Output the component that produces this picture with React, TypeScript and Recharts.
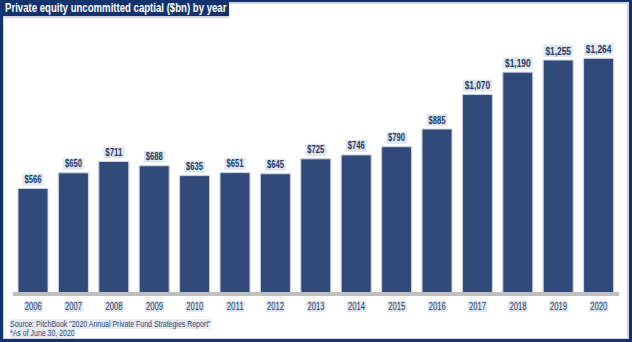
import React from 'react';
import { BarChart, Bar, XAxis, YAxis, LabelList } from 'recharts';

const years = ['2006', '2007', '2008', '2009', '2010', '2011', '2012', '2013', '2014', '2015', '2016', '2017', '2018', '2019', '2020'];
const capital = [566, 650, 711, 688, 635, 651, 645, 725, 746, 790, 885, 1070, 1190, 1255, 1264];
const titleText = 'Private equity uncommitted captial ($bn) by year';
const sourceLines = ['Source: PitchBook "2020 Annual Private Fund Strategies Report"', '*As of June 30, 2020'];

const data = years.map((y, i) => ({ year: y, value: capital[i] }));

const FONT = '"Liberation Sans", Arial, sans-serif';
const NAVY = '#12336b';
const BAR = '#324a7b';
const TEXT = '#1f3864';
const HILITE = '#e1e6ee';

const Tick = (props: any) => {
  const { x, y, payload } = props;
  const w = 19;
  return (
    <g>
      <rect x={x - w / 2} y={y - 1} width={w} height={11} fill={HILITE} />
      <text x={x} y={y + 8} textAnchor="middle" fontSize={10} fill={TEXT} fontFamily={FONT}
        textLength={17} lengthAdjust="spacingAndGlyphs">
        {payload.value}
      </text>
    </g>
  );
};

const ValueLabel = (props: any) => {
  const { x, y, width, value } = props;
  const cx = x + width / 2;
  const t = '$' + Number(value).toLocaleString('en-US');
  const tl = t.length * 4.25;
  const w = tl + 4;
  return (
    <g>
      <rect x={cx - w / 2} y={y - 15} width={w} height={12} fill={HILITE} />
      <text x={cx} y={y - 5.5} textAnchor="middle" fontSize={10} fontWeight="bold" fill={TEXT} fontFamily={FONT}
        textLength={tl} lengthAdjust="spacingAndGlyphs">
        {t}
      </text>
    </g>
  );
};

export default function App() {
  return (
    <div style={{ position: 'fixed', left: 0, top: 0, width: 632, height: 342, background: '#fff', overflow: 'hidden' }}>
      <div
        style={{
          position: 'absolute', left: 0, top: 0, width: 632, height: 342, boxSizing: 'border-box',
          borderStyle: 'solid', borderColor: NAVY, borderWidth: '2px 3px 3px 3px',
        }}
      >
        <div style={{ position: 'absolute', inset: 0, border: '1px solid #cfd4dd', borderRightWidth: 2, borderTopWidth: 2 }} />
      </div>
      <div style={{ position: 'absolute', left: 0, top: 0 }}>
        <BarChart width={632} height={342} data={data} margin={{ top: 33, right: 13, bottom: 28, left: 13 }}>
          <XAxis
            dataKey="year"
            tickLine={false}
            axisLine={{ stroke: '#bfbfbf', strokeWidth: 4 }}
            tick={<Tick />}
            height={20}
            interval={0}
          />
          <YAxis hide domain={[0, 1400]} />
          <Bar dataKey="value" fill={BAR} stroke="#cdd3de" strokeWidth={1} barSize={30} isAnimationActive={false}>
            <LabelList dataKey="value" content={<ValueLabel />} />
          </Bar>
        </BarChart>
      </div>
      <div
        style={{
          position: 'absolute', left: 0, top: 0, width: 229, height: 16, background: NAVY, overflow: 'hidden',
        }}
      >
        <span
          style={{
            position: 'absolute', left: 5, top: 0, display: 'inline-block', transform: 'scaleX(0.8)', transformOrigin: 'left center',
            color: '#fff', fontFamily: FONT, fontWeight: 'bold', fontSize: 12, lineHeight: '16px', whiteSpace: 'nowrap',
          }}
        >
          {titleText}
        </span>
      </div>
      <div style={{ position: 'absolute', left: 3, top: 16, width: 226, height: 2, background: '#cfd4dd' }} />
      <div
        style={{
          position: 'absolute', left: 10, top: 320, fontFamily: FONT, fontSize: 8.3, lineHeight: '8.5px', color: '#2b4374',
          transform: 'scaleX(0.84)', transformOrigin: 'left top', whiteSpace: 'nowrap',
        }}
      >
        {sourceLines.map((l, i) => (
          <div key={i}>
            <span style={{ background: '#e8ebf1' }}>{l}</span>
          </div>
        ))}
      </div>
    </div>
  );
}
